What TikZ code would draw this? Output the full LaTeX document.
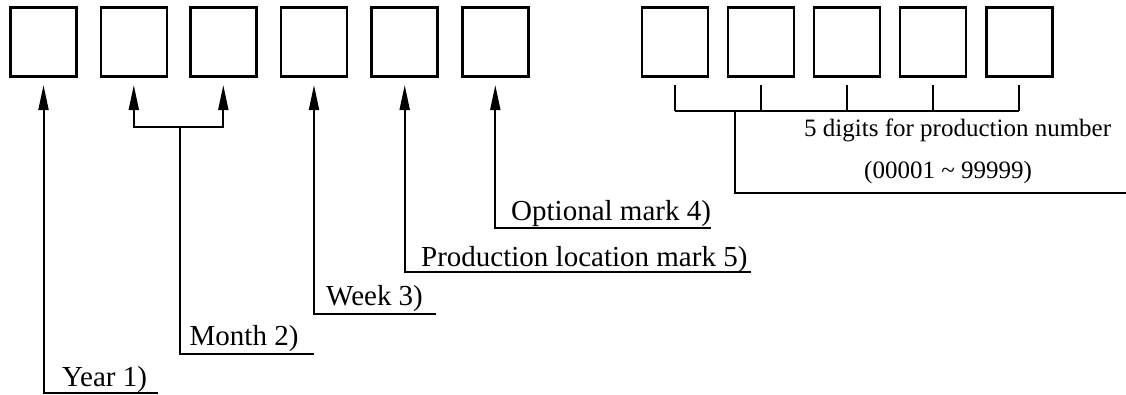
\documentclass[tikz,border=0pt]{standalone}
\usepackage{fontspec}
\setmainfont{Liberation Serif}
\usetikzlibrary{arrows.meta}
\begin{document}
\begin{tikzpicture}[x=1pt,y=-1pt,
  digit/.style={draw,line width=2.6pt,minimum width=66pt,minimum height=69.5pt,inner sep=0pt},
  conn/.style={line width=2pt},
  arr/.style={conn,-{Triangle[length=25pt,width=10pt]},shorten >=7pt},
  dblarr/.style={conn,{Triangle[length=25pt,width=10pt]}-{Triangle[length=25pt,width=10pt]},shorten >=7pt,shorten <=7pt},
  lab/.style={anchor=base west,inner sep=0pt,font=\fontsize{29}{34}\selectfont},
  rlab/.style={anchor=base west,inner sep=0pt,font=\fontsize{25}{30}\selectfont}]
\useasboundingbox (0,0) rectangle (1126,394);
% left boxes
\node[digit] (b1) at (43.5,42) {};
\node[digit] (b2) at (133.8,42) {};
\node[digit] (b3) at (223.3,42) {};
\node[digit] (b4) at (314,42) {};
\node[digit] (b5) at (404.7,42) {};
\node[digit] (b6) at (495.3,42) {};
% right boxes
\node[digit] (r1) at (674.9,42) {};
\node[digit] (r2) at (760.8,42) {};
\node[digit] (r3) at (847,42) {};
\node[digit] (r4) at (933,42) {};
\node[digit] (r5) at (1019.3,42) {};
% labels
\node[lab] (year) at (62,386.7) {Year 1)};
\node[lab] (month) at (189.5,345) {Month 2)};
\node[lab] (week) at (326,305) {Week 3)};
\node[lab] (loc) at (421,266) {Production location mark 5)};
\node[lab] (opt) at (511,220) {Optional mark 4)};
\node[rlab] (dig) at (804,136.7) {5 digits for production number};
\node[rlab] (rng) at (864,178.3) {(00001 \char"007E{} 99999)};
% connector corners
\coordinate (ye) at (158.3,393.3);
\coordinate (me) at (314.3,354.3);
\coordinate (mj) at (180,127.3);
\coordinate (we) at (435.7,314.3);
\coordinate (le) at (751,271.7);
\coordinate (oe) at (710.7,228.3);
\coordinate (rb) at (735,111);
\coordinate (re) at (1126,193.3);
% connectors
\draw[arr] (ye) -| (b1.south);
\draw[dblarr] (b2.south) |- (mj) -| (b3.south);
\draw[conn] (me) -| (mj);
\draw[arr] (we) -| (b4.south);
\draw[arr] (le) -| (b5.south);
\draw[arr] (oe) -| (b6.south);
\draw[conn,shorten <=7pt] (r1.south) -- (r1.south |- rb);
\draw[conn,shorten <=7pt] (r2.south) -- (r2.south |- rb);
\draw[conn,shorten <=7pt] (r3.south) -- (r3.south |- rb);
\draw[conn,shorten <=7pt] (r4.south) -- (r4.south |- rb);
\draw[conn,shorten <=7pt] (r5.south) -- (r5.south |- rb);
\draw[conn] (r1.south |- rb) -- (r5.south |- rb);
\draw[conn] (rb) |- (re);
\end{tikzpicture}
\end{document}
